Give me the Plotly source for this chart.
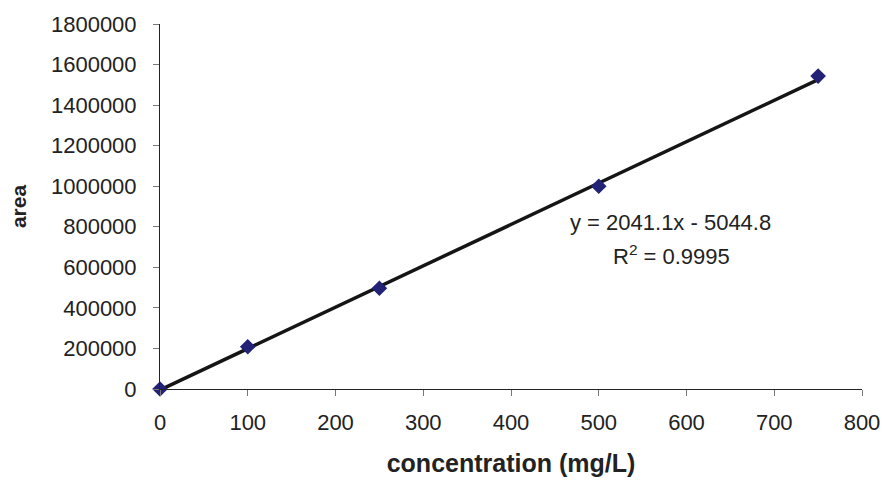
import plotly.graph_objects as go

# Data
concentration = [0, 100, 250, 500, 750]
area = [0, 208000, 497000, 1000000, 1543000]

# Trendline coefficients (as printed on the chart)
slope = 2041.1
intercept = -5044.8
r_squared = 0.9995
trend_x = [0, 750]
trend_y = [slope * x + intercept for x in trend_x]

x_ticks = [0, 100, 200, 300, 400, 500, 600, 700, 800]
y_ticks = [0, 200000, 400000, 600000, 800000, 1000000, 1200000, 1400000, 1600000, 1800000]

font_family = "Liberation Sans, Arial, sans-serif"

fig = go.Figure()
fig.add_trace(go.Scatter(
    x=trend_x, y=trend_y, mode="lines",
    line=dict(color="#151515", width=3.5),
    showlegend=False, hoverinfo="skip",
))
fig.add_trace(go.Scatter(
    x=concentration, y=area, mode="markers",
    marker=dict(symbol="diamond", size=12, color="#222276"),
    cliponaxis=False, showlegend=False,
))

fig.add_annotation(
    x=0.727, y=0.4575, xref="paper", yref="paper", xanchor="center", yanchor="middle",
    text="y = 2041.1x - 5044.8", showarrow=False,
    font=dict(family=font_family, size=22, color="#222222"),
)
fig.add_annotation(
    x=0.7286, y=0.367, xref="paper", yref="paper", xanchor="center", yanchor="middle",
    text="R<sup>2</sup> = 0.9995", showarrow=False,
    font=dict(family=font_family, size=22, color="#222222"),
)

fig.update_layout(
    width=887, height=482,
    margin=dict(l=160, r=25, t=24, b=93),
    paper_bgcolor="white", plot_bgcolor="white",
    font=dict(family=font_family, size=22, color="#222222"),
    xaxis=dict(
        range=[0, 800], tickvals=x_ticks, tickformat="d",
        showline=True, linecolor="#222222", linewidth=1,
        ticks="outside", ticklen=6, tickcolor="#777777",
        ticklabelstandoff=8, automargin=False,
        showgrid=False, zeroline=False,
        title=dict(text="<b>concentration (mg/L)</b>", font=dict(size=25), standoff=20),
    ),
    yaxis=dict(
        range=[0, 1800000], tickvals=y_ticks, tickformat="d",
        showline=True, linecolor="#222222", linewidth=1,
        ticks="outside", ticklen=6, tickcolor="#777777",
        ticklabelstandoff=12, automargin=False,
        showgrid=False, zeroline=False,
        title=dict(text="<b>area</b>", font=dict(size=21), standoff=18),
    ),
)

fig.write_html("out.html")
